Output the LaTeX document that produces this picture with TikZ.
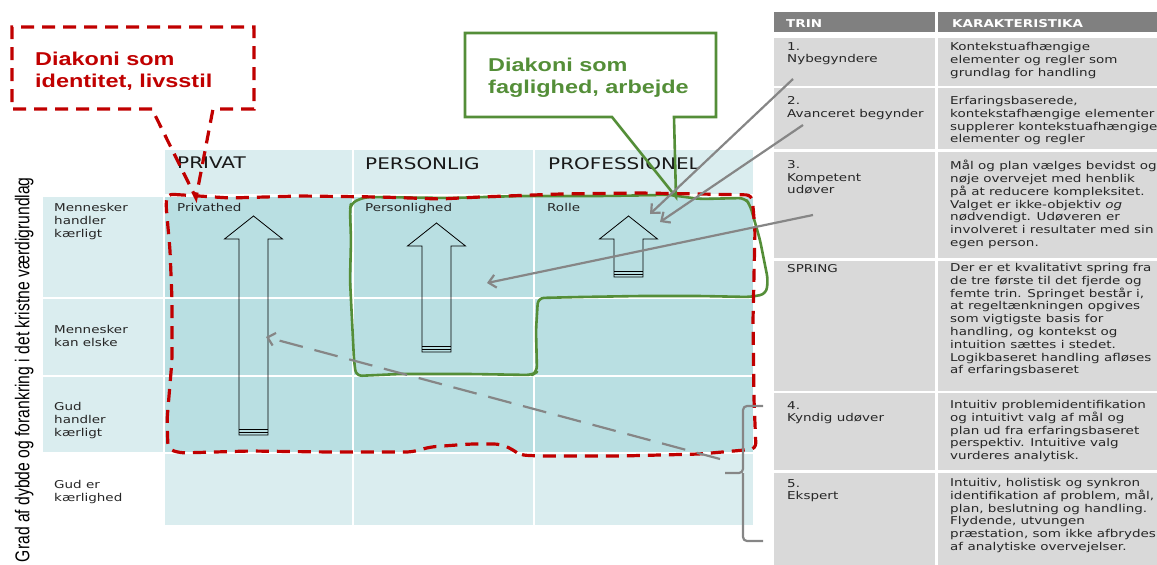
\documentclass[tikz,border=0pt]{standalone}
\usepackage{fontspec}
\setmainfont{DejaVu Sans}[FakeStretch=1.25]
\newfontfamily\callfont{Liberation Sans}[FakeStretch=1.26]
\newfontfamily\axisfont{Liberation Sans}[FakeStretch=0.785]
\usetikzlibrary{arrows.meta}
\definecolor{lb}{RGB}{218,237,239}
\definecolor{db}{RGB}{185,223,226}
\definecolor{dred}{RGB}{192,0,0}
\definecolor{lgreen}{RGB}{84,142,56}
\definecolor{hdr}{RGB}{128,128,128}
\definecolor{cellg}{RGB}{217,217,217}
\definecolor{ptr}{RGB}{134,134,134}
\newcommand{\blkarrow}[3]{%
	\draw[blk] (#1,#2) -- ++(29,23) -- ++(-14.5,0) -- (#1+14.5,#3) -- (#1-14.5,#3) -- (#1-14.5,#2+23) -- ++(-14.5,0) -- cycle;
	\draw[blk] (#1-14.5,#3-2.5) -- (#1+14.5,#3-2.5) (#1-14.5,#3-5.5) -- (#1+14.5,#3-5.5);}

\begin{document}
\begin{tikzpicture}[x=1pt,y=-1pt,
	txt/.style={anchor=north west,inner sep=0pt,align=left,text=black!85,font=\fontsize{10.8}{12.8}\selectfont},
	colhead/.style={anchor=north west,inner sep=0pt,text=black!90,font=\fontsize{16}{19}\selectfont},
	tabhead/.style={anchor=north west,inner sep=0pt,text=white,font=\bfseries\fontsize{10.8}{12}\selectfont},
	calltxt/.style={anchor=north west,inner sep=0pt,align=left,font=\callfont\bfseries\fontsize{18.6}{22}\selectfont},
	redline/.style={draw=dred,line width=3.2pt,dash pattern=on 13pt off 8pt},
	greenline/.style={draw=lgreen,line width=2.6pt,line join=round},
	pointer/.style={draw=ptr,line width=2.2pt,-{Straight Barb[length=7pt,width=13pt]}},
	blk/.style={draw=black,line width=0.8pt}]
	\useasboundingbox (0,0) rectangle (1157,565);
	\foreach \a/\b in {165/352,354/533,535/753} {
		\fill[lb] (\a,150) rectangle (\b,194);
		\foreach \c/\d in {197/297,299/375,377/452} \fill[db] (\a,\c) rectangle (\b,\d);
		\fill[lb] (\a,454) rectangle (\b,525);}
	\foreach \c/\d in {197/297,299/375,377/452} \fill[lb] (43,\c) rectangle (163,\d);
	\node[colhead] (p) at (177,157) {PRIVAT};
	\node[colhead] (q) at (365,157) {PERSONLIG};
	\node[colhead] (r) at (548,157) {PROFESSIONEL};
	\node[txt] (pa) at (177,203) {Privathed};
	\node[txt] (qa) at (365,203) {Personlighed};
	\node[txt] (ra) at (547,203) {Rolle};
	\node[txt] (m1) at (54,203) {Mennesker\\handler\\kærligt};
	\node[txt] (m2) at (54,325) {Mennesker\\kan elske};
	\node[txt] (g1) at (54,402) {Gud\\handler\\kærligt};
	\node[txt] (g2) at (54,480) {Gud er\\kærlighed};
	\node[rotate=90,anchor=base east,inner sep=0pt,font=\axisfont\fontsize{20}{24}\selectfont] (ax) at (29.3,177) {Grad af dybde og forankring i det kristne værdigrundlag};
	\blkarrow{253.5}{216}{435}
	\blkarrow{436.5}{223}{352}
	\blkarrow{628.5}{216}{277}
	\draw[greenline,rounded corners=6pt] (351,203) -- (365,197) -- (450,198) -- (520,196) -- (600,196) -- (670,195) -- (700,199) -- (745,198) -- (750,205) -- (760,240) -- (768,280) -- (766,294) -- (750,297) -- (700,296) -- (640,296) -- (580,297) -- (538,298) -- (536,330) -- (537,372) -- (532,375) -- (470,374) -- (400,374) -- (356,376) -- (354,360) -- (352,320) -- (350,280) -- (351,240) -- (350,210) -- cycle;
	\draw[redline,rounded corners=6pt] (167,194) -- (230,198) -- (300,196) -- (380,197) -- (440,199) -- (480,197) -- (560,194) -- (640,193) -- (700,194) -- (752,195) -- (755,230) -- (753,320) -- (754,400) -- (756,449) -- (700,454) -- (620,456) -- (540,456) -- (520,455) -- (512,449) -- (500,444) -- (470,444) -- (430,447) -- (412,452) -- (330,452) -- (250,451) -- (180,453) -- (168,449) -- (167,420) -- (172,360) -- (172,300) -- (170,250) -- (166,205) -- cycle;
	\draw[redline] (152,109) -- (12,109) -- (12,27) -- (254,27) -- (254,109) -- (213,109) -- (196,198) -- cycle;
	\node[calltxt,text=dred] (rc) at (35,52) {Diakoni som\\identitet, livsstil};
	\draw[greenline,line join=miter] (612,117) -- (465,117) -- (465,33) -- (716,33) -- (716,117) -- (674,117) -- (676,197) -- cycle;
	\node[calltxt,text=lgreen] (gc) at (488,58) {Diakoni som\\faglighed, arbejde};
	\fill[hdr] (774,12) rectangle (935,32);
	\fill[hdr] (938,12) rectangle (1157,32);
	\foreach \a/\b in {38/86,88/149,152/258,261/391,393/470,473/565} {
		\fill[cellg] (774,\a) rectangle (935,\b);
		\fill[cellg] (938,\a) rectangle (1157,\b);}
	\node[tabhead] (t) at (786,19) {TRIN};
	\node[tabhead] (k) at (952,19) {KARAKTERISTIKA};
	\node[txt] (t1) at (787,42) {1.\\Nybegyndere};
	\node[txt] (k1) at (950,42) {Kontekstuafhængige\\elementer og regler som\\grundlag for handling};
	\node[txt] (t2) at (787,96) {2.\\Avanceret begynder};
	\node[txt] (k2) at (950,96) {Erfaringsbaserede,\\kontekstafhængige elementer\\supplerer kontekstuafhængige\\elementer og regler};
	\node[txt] (t3) at (787,160) {3.\\Kompetent\\udøver};
	\node[txt] (k3) at (950,160) {Mål og plan vælges bevidst og\\nøje overvejet med henblik\\på at reducere kompleksitet.\\Valget er ikke-objektiv \textit{og}\\nødvendigt. Udøveren er\\involveret i resultater med sin\\egen person.};
	\node[txt] (ts) at (787,264) {SPRING};
	\node[txt] (ks) at (950,263) {Der er et kvalitativt spring fra\\de tre første til det fjerde og\\femte trin. Springet består i,\\at regeltænkningen opgives\\som vigtigste basis for\\handling, og kontekst og\\intuition sættes i stedet.\\Logikbaseret handling afløses\\af erfaringsbaseret};
	\node[txt] (t4) at (787,401) {4.\\Kyndig udøver};
	\node[txt] (k4) at (950,400) {Intuitiv problemidentifikation\\og intuitivt valg af mål og\\plan ud fra erfaringsbaseret\\perspektiv. Intuitive valg\\vurderes analytisk.};
	\node[txt] (t5) at (787,479) {5.\\Ekspert};
	\node[txt] (k5) at (950,478) {Intuitiv, holistisk og synkron\\identifikation af problem, mål,\\plan, beslutning og handling.\\Flydende, utvungen\\præstation, som ikke afbrydes\\af analytiske overvejelser.};
	\coordinate (s1) at (793,79);
	\coordinate (e1) at (650,214);
	\coordinate (s2) at (803,125);
	\coordinate (e2) at (660,222);
	\coordinate (s3) at (813,215);
	\coordinate (e3) at (487,283);
	\coordinate (s4) at (720,459);
	\coordinate (e4) at (266,337);
	\draw[pointer] (s1) -- (e1);
	\draw[pointer] (s2) -- (e2);
	\draw[pointer] (s3) -- (e3);
	\draw[pointer,dash pattern=on 24pt off 12pt] (s4) -- (e4);
	\draw[draw=ptr,line width=2.2pt,rounded corners=4pt] (763,406) -| (743,473) -- (725,473);
	\draw[draw=ptr,line width=2.2pt,rounded corners=4pt] (743,473) |- (763,541);
\end{tikzpicture}
\end{document}
